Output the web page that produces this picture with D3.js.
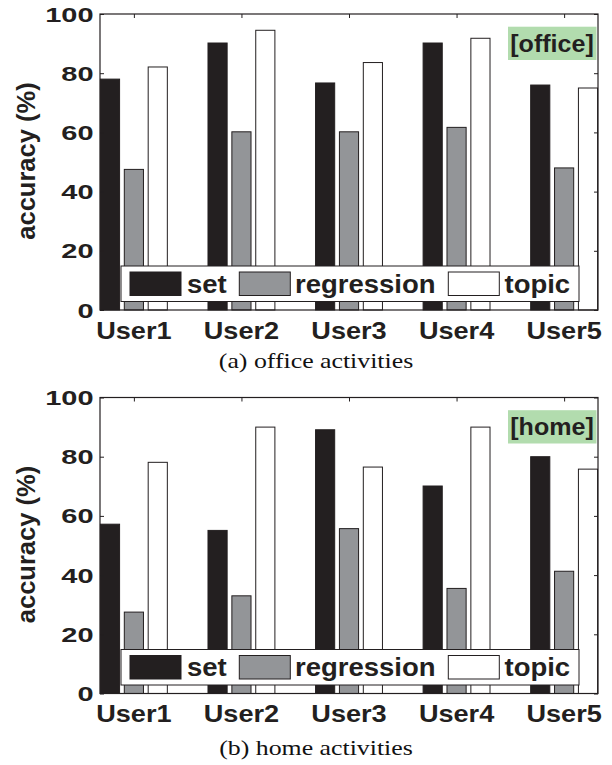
<!DOCTYPE html>
<html>
<head>
<meta charset="utf-8">
<script src="https://cdn.jsdelivr.net/npm/d3@7"></script>
<style>
  html, body { margin: 0; padding: 0; background: #fff; }
  svg { display: block; }
</style>
</head>
<body>
<svg id="chart" width="612" height="765"></svg>
<script>
const users = ["User1", "User2", "User3", "User4", "User5"];
const seriesNames = ["set", "regression", "topic"];
const yTicks = [0, 20, 40, 60, 80, 100];

const officeSet = [78, 90.2, 76.7, 90.2, 76];
const officeRegression = [47.5, 60.2, 60.2, 61.7, 48];
const officeTopic = [82.1, 94.5, 83.6, 91.8, 75];

const homeSet = [57.2, 55.1, 89.1, 70.1, 80];
const homeRegression = [27.5, 33, 55.7, 35.5, 41.3];
const homeTopic = [78.1, 90, 76.5, 90, 75.8];

const panels = [
  { tag: "[office]", caption: "(a) office activities", data: [officeSet, officeRegression, officeTopic] },
  { tag: "[home]", caption: "(b) home activities", data: [homeSet, homeRegression, homeTopic] }
];

const fills = ["#231f20", "#939598", "#ffffff"];
const ink = "#231f20";

const svg = d3.select("#chart");
const left = 100, right = 598;
const tops = [14, 397.5];
const plotH = 296;

panels.forEach((p, pi) => {
  const top = tops[pi];
  const bottom = top + plotH;
  const g = svg.append("g");

  const x = d3.scaleLinear().domain([0.685, 5.315]).range([left, right]);
  const y = d3.scaleLinear().domain([0, 100]).range([bottom, top]);
  const barW = x(0.178) - x(0);
  const off = 0.222;

  // bars
  p.data.forEach((vals, si) => {
    g.selectAll(null).data(vals).enter().append("rect")
      .attr("x", (d, i) => x(i + 1 + (si - 1) * off) - barW / 2)
      .attr("y", d => y(d))
      .attr("width", barW)
      .attr("height", d => y(0) - y(d))
      .attr("fill", fills[si])
      .attr("stroke", ink)
      .attr("stroke-width", 1);
  });

  // axes box
  g.append("rect").attr("x", left).attr("y", top).attr("width", right - left).attr("height", plotH)
    .attr("fill", "none").attr("stroke", ink).attr("stroke-width", 1.2);

  // y ticks (inside left and right)
  const yAxisL = d3.axisLeft(y).tickValues(yTicks).tickSize(-4).tickFormat("");
  const yAxisR = d3.axisRight(y).tickValues(yTicks).tickSize(-4).tickFormat("");
  const gl = g.append("g").attr("transform", `translate(${left},0)`).call(yAxisL);
  const gr = g.append("g").attr("transform", `translate(${right},0)`).call(yAxisR);
  [gl, gr].forEach(a => { a.select(".domain").remove(); a.selectAll("line").attr("stroke", ink); });

  // x ticks top inside
  const xAxisT = d3.axisTop(x).tickValues([1, 2, 3, 4, 5]).tickSize(-4).tickFormat("");
  const gt = g.append("g").attr("transform", `translate(0,${top})`).call(xAxisT);
  gt.select(".domain").remove();
  gt.selectAll("line").attr("stroke", ink);

  // y tick labels
  g.selectAll(null).data(yTicks).enter().append("text")
    .attr("transform", d => `translate(93.5,${y(d)}) scale(1.38,1)`)
    .attr("text-anchor", "end")
    .attr("dy", "0.36em")
    .attr("font-family", "Liberation Sans, Arial, sans-serif")
    .attr("font-weight", "bold")
    .attr("font-size", 21)
    .attr("fill", ink)
    .text(d => d);

  // x labels
  g.selectAll(null).data(users).enter().append("text")
    .attr("transform", (d, i) => `translate(${x(i + 1)},${bottom + 28.5}) scale(1.13,1)`)
    .attr("text-anchor", "middle")
    .attr("font-family", "Liberation Sans, Arial, sans-serif")
    .attr("font-weight", "bold")
    .attr("font-size", 24)
    .attr("fill", ink)
    .text(d => d);

  // y axis label
  g.append("text")
    .attr("transform", `translate(35,${(top + bottom) / 2 - 1}) rotate(-90)`)
    .attr("text-anchor", "middle")
    .attr("font-family", "Liberation Sans, Arial, sans-serif")
    .attr("font-weight", "bold")
    .attr("font-size", 25.5)
    .attr("fill", ink)
    .text("accuracy (%)");

  // tag box
  g.append("rect").attr("x", 508).attr("y", top + 12.7).attr("width", 88.5).attr("height", 33.3)
    .attr("fill", "#b2dcae");
  g.append("text")
    .attr("transform", `translate(552,${top + 29.5}) scale(1.09,1)`)
    .attr("text-anchor", "middle")
    .attr("dy", "0.36em")
    .attr("font-family", "Liberation Sans, Arial, sans-serif")
    .attr("font-weight", "bold")
    .attr("font-size", 23)
    .attr("fill", ink)
    .text(p.tag);

  // legend
  const legTop = bottom - 44, legH = 35.5;
  g.append("rect").attr("x", 121).attr("y", legTop).attr("width", 458).attr("height", legH)
    .attr("fill", "#fff").attr("stroke", ink).attr("stroke-width", 1);
  const swX = [130, 239.3, 448.3];
  const txX = [187, 295, 504.5];
  seriesNames.forEach((s, si) => {
    g.append("rect").attr("x", swX[si]).attr("y", legTop + 6).attr("width", 51).attr("height", 23.5)
      .attr("fill", fills[si]).attr("stroke", ink).attr("stroke-width", 1);
    g.append("text")
      .attr("transform", `translate(${txX[si]},${legTop + legH / 2}) scale(1.1,1)`)
      .attr("dy", "0.36em")
      .attr("font-family", "Liberation Sans, Arial, sans-serif")
      .attr("font-weight", "bold")
      .attr("font-size", 25)
      .attr("fill", ink)
      .text(s);
  });

  // caption
  g.append("text")
    .attr("transform", `translate(316,${bottom + 58 + pi * 3}) scale(1.23,1)`)
    .attr("text-anchor", "middle")
    .attr("font-family", "Liberation Serif, DejaVu Serif, serif")
    .attr("font-size", 21)
    .attr("fill", "#111")
    .text(p.caption);
});
</script>
</body>
</html>
